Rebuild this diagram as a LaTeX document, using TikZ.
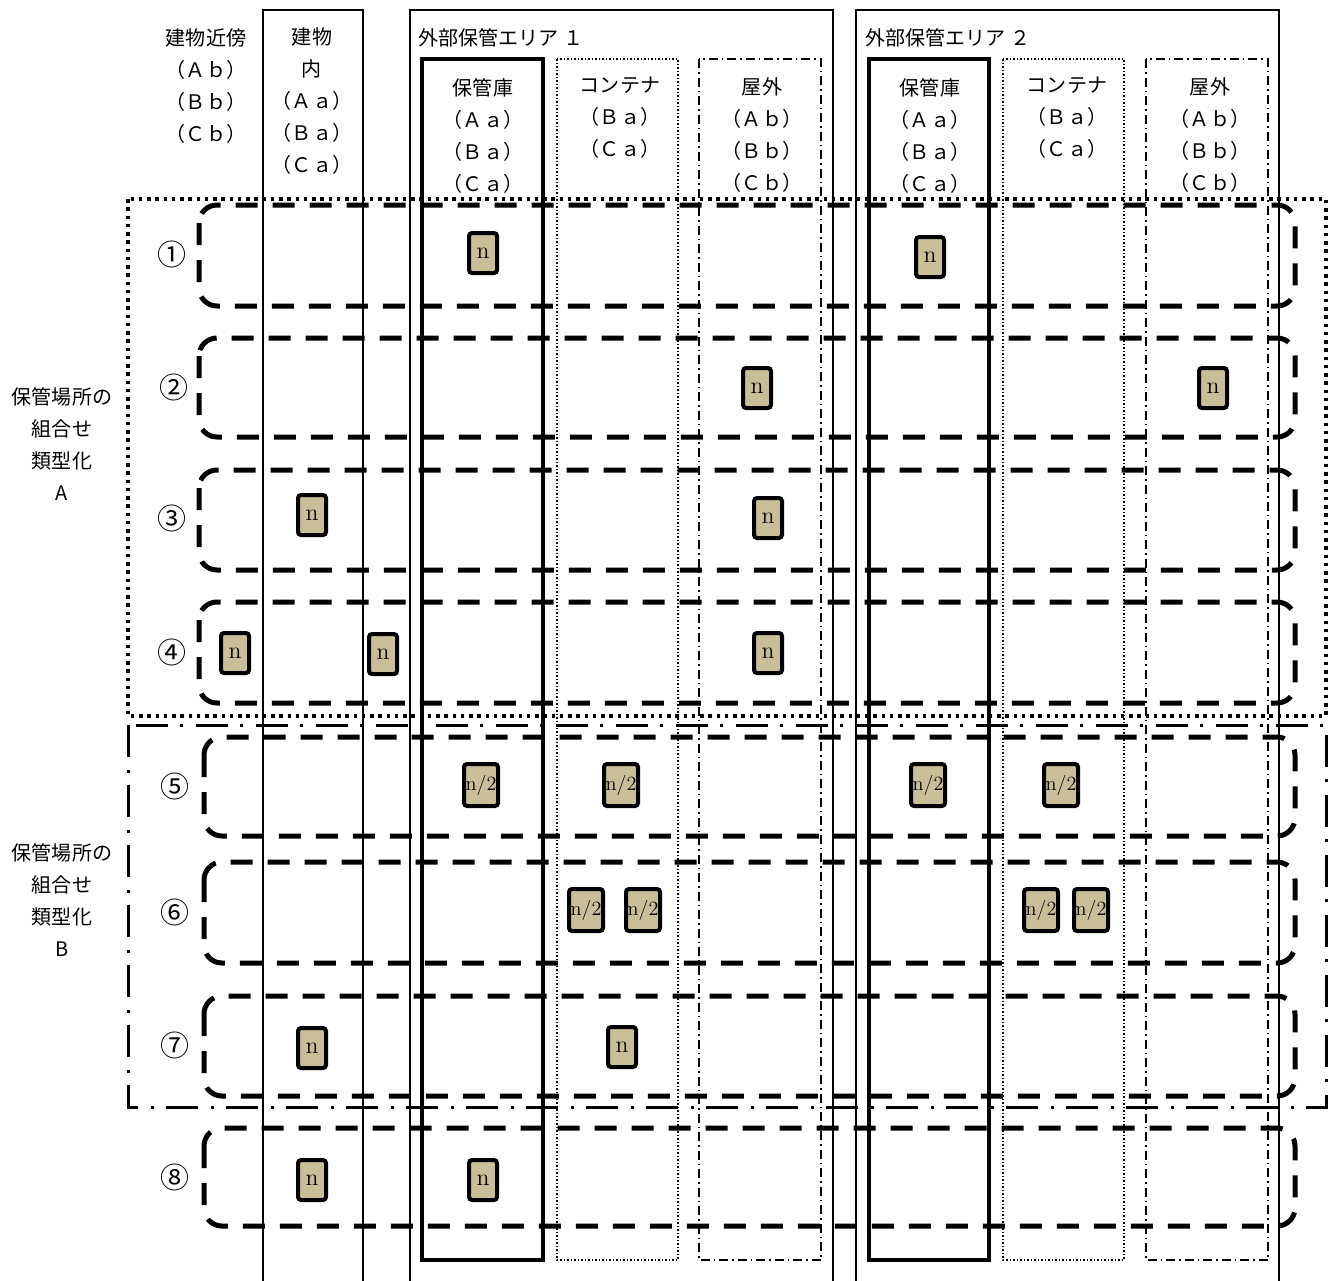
\documentclass[tikz,border=0pt]{standalone}
\usepackage{fontspec}
\newfontfamily\jpfont{Noto Sans CJK JP}
\usepackage{tikz}
\usetikzlibrary{positioning}
\definecolor{unittan}{HTML}{C8BF99}
\tikzstyle{unit}=[
    draw,
    line width=0.8mm,
    fill=unittan,
    rounded corners=0.6mm,
    minimum width=5.6mm,
    minimum height=8mm,
    inner sep=0pt,
    font=\fontsize{13.5}{15}\selectfont
]
\tikzstyle{unithalf}=[unit,minimum width=6.8mm,minimum height=8.4mm,font=\fontsize{11.5}{13}\selectfont]
\tikzstyle{jptext}=[inner sep=0pt,align=center,font=\jpfont\fontsize{11.4}{18.1}\selectfont]

\begin{document}
\begin{tikzpicture}[
    x=0.2mm,y=-0.2mm,
    thinbox/.style={line width=0.25mm},
    storebox/.style={line width=0.8mm},
    contbox/.style={line width=0.22mm,dash pattern=on 0.35mm off 0.35mm},
    outbox/.style={line width=0.22mm,dash pattern=on 1.8mm off 0.8mm on 0.3mm off 0.8mm},
    rowgrp/.style={line width=1mm,rounded corners=3.6mm,dash pattern=on 4.4mm off 3mm},
    grpA/.style={line width=0.65mm,dash pattern=on 0.7mm off 0.95mm},
    grpB/.style={line width=0.6mm,dash pattern=on 6.4mm off 2.6mm on 0.6mm off 2.4mm},
    rownum/.style={inner sep=0pt,font=\jpfont\fontsize{16.5}{18}\selectfont}
]
\useasboundingbox (0,0) rectangle (1335,1280);
% columns
\draw[thinbox] (263,1290) -- (263,10) -- (363,10) -- (363,1290);
\draw[thinbox] (410,1290) -- (410,10) -- (833,10) -- (833,1290);
\draw[thinbox] (856,1290) -- (856,10) -- (1279,10) -- (1279,1290);
\draw[storebox] (422,59) rectangle (543,1260);
\draw[contbox] (557,59) rectangle (678,1260);
\draw[outbox] (699,59) rectangle (821,1260);
\draw[storebox] (869,59) rectangle (989,1260);
\draw[contbox] (1003,59) rectangle (1124,1260);
\draw[outbox] (1146,59) rectangle (1268,1260);
% headers
\node[jptext] (hdnear) at (206,86) {建物近傍\\（Ａｂ）\\（Ｂｂ）\\（Ｃｂ）};
\node[jptext] (hdin) at (312,101) {建物\\内\\（Ａａ）\\（Ｂａ）\\（Ｃａ）};
\node[jptext,anchor=west] (hdarea1) at (418,38) {外部保管エリア １};
\node[jptext,anchor=west] (hdarea2) at (865,38) {外部保管エリア ２};
\node[jptext] (hdstore1) at (483,136) {保管庫\\（Ａａ）\\（Ｂａ）\\（Ｃａ）};
\node[jptext] (hdcont1) at (620,118) {コンテナ\\（Ｂａ）\\（Ｃａ）};
\node[jptext] (hdout1) at (762,135) {屋外\\（Ａｂ）\\（Ｂｂ）\\（Ｃｂ）};
\node[jptext] (hdstore2) at (930,136) {保管庫\\（Ａａ）\\（Ｂａ）\\（Ｃａ）};
\node[jptext] (hdcont2) at (1067,118) {コンテナ\\（Ｂａ）\\（Ｃａ）};
\node[jptext] (hdout2) at (1210,135) {屋外\\（Ａｂ）\\（Ｂｂ）\\（Ｃｂ）};
% group frames
\draw[grpA] (128,199) rectangle (1326,716);
\draw[grpB] (128,725) rectangle (1326,1107);
\node[jptext] (typeA) at (62,444) {保管場所の\\組合せ\\類型化\\A};
\node[jptext] (typeB) at (62,900) {保管場所の\\組合せ\\類型化\\B};
% rows
\draw[rowgrp] (199,205) rectangle (1295,306);
\draw[rowgrp] (199,338) rectangle (1295,437);
\draw[rowgrp] (199,470) rectangle (1295,570);
\draw[rowgrp] (199,602) rectangle (1295,703);
\draw[rowgrp] (204,737) rectangle (1295,836);
\draw[rowgrp] (204,862) rectangle (1295,963);
\draw[rowgrp] (204,996) rectangle (1295,1096);
\draw[rowgrp] (204,1128) rectangle (1295,1226);
\node[rownum] (r1) at (172,254) {①};
\node[rownum] (r2) at (174,387) {②};
\node[rownum] (r3) at (172,518) {③};
\node[rownum] (r4) at (172,652) {④};
\node[rownum] (r5) at (175,786) {⑤};
\node[rownum] (r6) at (175,912) {⑥};
\node[rownum] (r7) at (175,1045) {⑦};
\node[rownum] (r8) at (175,1177) {⑧};
% units
\node[unit] (u1a) at (483,253) {n};
\node[unit] (u1b) at (930,257) {n};
\node[unit] (u2a) at (757,388) {n};
\node[unit] (u2b) at (1213,388) {n};
\node[unit] (u3a) at (312,515) {n};
\node[unit] (u3b) at (768,518) {n};
\node[unit] (u4a) at (235,653) {n};
\node[unit] (u4b) at (383,654) {n};
\node[unit] (u4c) at (768,653) {n};
\node[unithalf] (u5a) at (481,785) {n/2};
\node[unithalf] (u5b) at (621,785) {n/2};
\node[unithalf] (u5c) at (928,785) {n/2};
\node[unithalf] (u5d) at (1061,785) {n/2};
\node[unithalf] (u6a) at (586,910) {n/2};
\node[unithalf] (u6b) at (643,910) {n/2};
\node[unithalf] (u6c) at (1041,910) {n/2};
\node[unithalf] (u6d) at (1091,910) {n/2};
\node[unit] (u7a) at (312,1048) {n};
\node[unit] (u7b) at (622,1047) {n};
\node[unit] (u8a) at (312,1180) {n};
\node[unit] (u8b) at (483,1180) {n};
\end{tikzpicture}
\end{document}
